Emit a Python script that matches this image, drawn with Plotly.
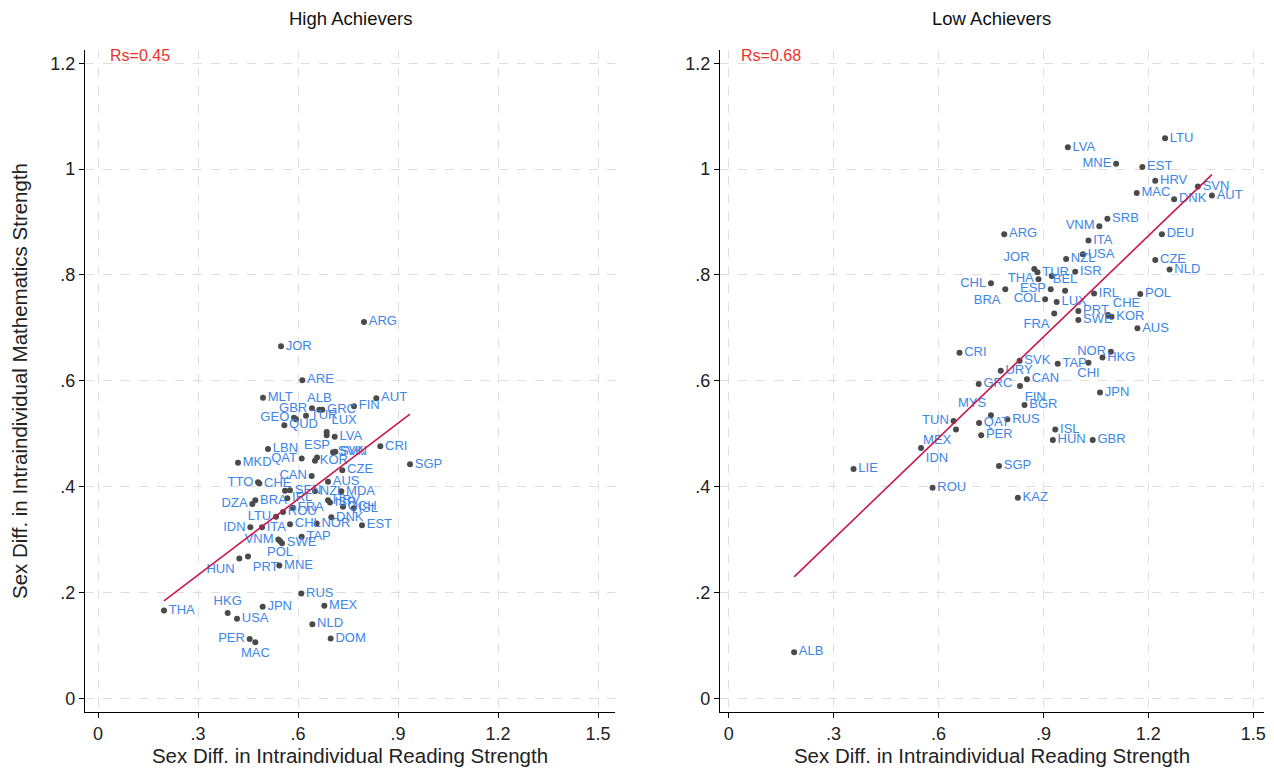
import numpy as np
import plotly.graph_objects as go

# ---------------- High achievers ----------------
ha_country = ["THA", "HKG", "USA", "JPN", "PER", "MAC", "RUS", "MEX", "NLD", "DOM",
              "HUN", "PRT", "MNE", "POL", "VNM", "SWE", "TAP", "IDN", "ITA", "LTU",
              "ROU", "FRA", "CHL", "NOR", "DNK", "EST", "DZA", "BRA", "IRL", "HRV",
              "ISR", "QCH", "ISL", "MDA", "NZL", "SEN", "", "TTO", "CHE", "AUS",
              "CAN", "CZE", "MKD", "QAT", "ESP", "KOR", "LBN", "SVK", "SVN", "CRI",
              "SGP", "LVA", "LUX", "", "QUD", "GEO", "", "TUR", "GBR", "ALB",
              "GRC", "FIN", "MLT", "AUT", "ARE", "JOR", "ARG"]
ha_read = [0.198, 0.389, 0.417, 0.494, 0.455, 0.472, 0.610, 0.679, 0.643, 0.698,
           0.424, 0.450, 0.544, 0.546, 0.541, 0.552, 0.611, 0.457, 0.492, 0.534,
           0.555, 0.585, 0.576, 0.656, 0.700, 0.792, 0.463, 0.472, 0.568, 0.690,
           0.696, 0.735, 0.767, 0.730, 0.651, 0.576, 0.561, 0.480, 0.484, 0.690,
           0.641, 0.733, 0.420, 0.611, 0.657, 0.651, 0.510, 0.705, 0.712, 0.847,
           0.936, 0.710, 0.686, 0.686, 0.559, 0.588, 0.594, 0.624, 0.642, 0.664,
           0.673, 0.768, 0.495, 0.835, 0.613, 0.549, 0.798]
ha_math = [0.166, 0.161, 0.150, 0.173, 0.112, 0.106, 0.198, 0.175, 0.140, 0.113,
           0.264, 0.268, 0.251, 0.297, 0.300, 0.293, 0.305, 0.323, 0.323, 0.343,
           0.352, 0.360, 0.329, 0.330, 0.342, 0.327, 0.367, 0.374, 0.378, 0.374,
           0.370, 0.362, 0.359, 0.391, 0.391, 0.393, 0.392, 0.408, 0.406, 0.409,
           0.420, 0.431, 0.445, 0.453, 0.455, 0.449, 0.471, 0.465, 0.466, 0.476,
           0.442, 0.494, 0.503, 0.497, 0.516, 0.530, 0.527, 0.534, 0.548, 0.545,
           0.545, 0.552, 0.568, 0.567, 0.601, 0.665, 0.711]
ha_labelpos = ["middle right", "top center", "middle right", "middle right", "middle left",
               "bottom center", "middle right", "middle right", "middle right", "middle right",
               "bottom left", "bottom right", "middle right", "bottom center", "middle left",
               "middle right", "middle right", "middle left", "middle right", "middle left",
               "middle right", "middle right", "middle right", "middle right", "middle right",
               "middle right", "middle left", "middle right", "middle right", "middle right",
               "middle right", "middle right", "middle right", "middle right", "middle right",
               "middle right", "middle right", "middle left", "middle right", "middle right",
               "middle left", "middle right", "middle right", "middle left", "top center",
               "middle right", "middle right", "middle right", "middle right", "middle right",
               "middle right", "middle right", "top right", "middle right", "middle right",
               "middle left", "middle right", "middle right", "middle left", "top center",
               "middle right", "middle right", "middle right", "middle right", "middle right",
               "middle right", "middle right"]
ha_fit = {"slope": 0.478, "intercept": 0.0893}
ha_rs = "Rs=0.45"

# ---------------- Low achievers ----------------
la_country = ["ALB", "LIE", "ROU", "KAZ", "SGP", "IDN", "MEX", "TUN", "QAT", "PER",
              "RUS", "MYS", "ISL", "HUN", "GBR", "BGR", "FIN", "GRC", "CAN", "URY",
              "SVK", "TAP", "CHI", "JPN", "CRI", "NOR", "HKG", "AUS", "SWE", "PRT",
              "FRA", "CHE", "KOR", "LUX", "COL", "IRL", "POL", "BEL", "ESP", "BRA",
              "CHL", "THA", "TUR", "", "JOR", "ISR", "NZL", "USA", "CZE", "NLD",
              "ITA", "ARG", "DEU", "VNM", "SRB", "MAC", "DNK", "AUT", "SVN", "HRV",
              "EST", "MNE", "LVA", "LTU"]
la_read = [0.187, 0.357, 0.583, 0.827, 0.773, 0.550, 0.650, 0.643, 0.716, 0.722,
           0.797, 0.750, 0.934, 0.927, 1.041, 0.846, 0.833, 0.715, 0.853, 0.778,
           0.832, 0.941, 1.029, 1.062, 0.660, 1.093, 1.069, 1.169, 1.000, 1.000,
           0.931, 1.085, 1.095, 0.938, 0.905, 1.045, 1.177, 0.962, 0.921, 0.791,
           0.750, 0.886, 0.883, 0.924, 0.874, 0.991, 0.965, 1.013, 1.220, 1.261,
           1.029, 0.788, 1.239, 1.060, 1.083, 1.167, 1.274, 1.382, 1.342, 1.220,
           1.183, 1.108, 0.970, 1.248]
la_math = [0.087, 0.433, 0.398, 0.379, 0.439, 0.473, 0.508, 0.524, 0.520, 0.497,
           0.527, 0.535, 0.508, 0.488, 0.488, 0.554, 0.590, 0.594, 0.603, 0.619,
           0.638, 0.632, 0.634, 0.578, 0.653, 0.655, 0.644, 0.699, 0.715, 0.732,
           0.727, 0.724, 0.721, 0.749, 0.754, 0.765, 0.764, 0.770, 0.773, 0.773,
           0.784, 0.792, 0.805, 0.798, 0.811, 0.806, 0.830, 0.839, 0.828, 0.810,
           0.865, 0.877, 0.877, 0.892, 0.906, 0.955, 0.943, 0.950, 0.967, 0.978,
           1.004, 1.010, 1.041, 1.058]
la_labelpos = ["middle right", "middle right", "middle right", "middle right", "middle right",
               "bottom right", "bottom left", "middle left", "middle right", "middle right",
               "middle right", "top left", "middle right", "middle right", "middle right",
               "middle right", "bottom right", "middle right", "middle right", "middle right",
               "middle right", "middle right", "bottom center", "middle right", "middle right",
               "middle left", "middle right", "middle right", "middle right", "middle right",
               "bottom left", "top right", "middle right", "middle right", "middle left",
               "middle right", "middle right", "top center", "middle left", "bottom left",
               "middle left", "middle left", "middle right", "middle right", "top left",
               "middle right", "middle right", "middle right", "middle right", "middle right",
               "middle right", "middle right", "middle right", "middle left", "middle right",
               "middle right", "middle right", "middle right", "middle right", "middle right",
               "middle right", "middle left", "middle right", "middle right"]
la_fit = {"slope": 0.636, "intercept": 0.1104}
la_rs = "Rs=0.68"

panel_titles = ["High Achievers", "Low Achievers"]
x_title = "Sex Diff. in Intraindividual Reading Strength"
y_title = "Sex Diff. in Intraindividual Mathematics Strength"
x_tickvals = [0, 0.3, 0.6, 0.9, 1.2, 1.5]
x_ticktext = ["0", ".3", ".6", ".9", "1.2", "1.5"]
y_tickvals = [0, 0.2, 0.4, 0.6, 0.8, 1.0, 1.2]
y_ticktext = ["0", ".2", ".4", ".6", ".8", "1", "1.2"]

FONT = "Arial, Liberation Sans, sans-serif"
LABEL_BLUE = "#3d85e8"
DOT = "#4a4a4a"
LINE = "#c8174b"
RS_RED = "#e8322c"
GRID = "#dedede"

# page body adds an 8px offset, so the figure is sized to fit the window
W, H = 1266, 768
ML, MR, MT, MB = 77, 10, 42, 64
pw = W - ML - MR
left_dom = [0, 530 / pw]
right_dom = [(712 - ML) / pw, 1]

fig = go.Figure()

panels = [
    (ha_read, ha_math, ha_country, ha_labelpos, ha_fit, ha_rs, "x", "y"),
    (la_read, la_math, la_country, la_labelpos, la_fit, la_rs, "x2", "y2"),
]

for xs, ys, labs, pos, fit, rs, xa, ya in panels:
    fig.add_trace(go.Scatter(
        x=xs, y=ys, mode="markers+text", text=labs, textposition=pos,
        marker=dict(color=DOT, size=6),
        textfont=dict(family=FONT, size=13, color=LABEL_BLUE),
        xaxis=xa, yaxis=ya, showlegend=False, cliponaxis=False))
    fx = np.array([min(xs), max(xs)])
    fy = fit["intercept"] + fit["slope"] * fx
    fig.add_trace(go.Scatter(
        x=fx, y=fy, mode="lines", line=dict(color=LINE, width=1.6),
        xaxis=xa, yaxis=ya, showlegend=False))
    fig.add_annotation(x=0.03, y=1.214, xref=xa, yref=ya, text=rs, showarrow=False,
                       xanchor="left", yanchor="middle",
                       font=dict(family=FONT, size=16, color=RS_RED))

axis_common = dict(showline=True, linecolor="black", linewidth=1.2, ticks="outside",
                   ticklen=5, tickcolor="black", showgrid=True, gridcolor=GRID,
                   griddash="dash", gridwidth=1, zeroline=False, mirror=False,
                   tickfont=dict(family=FONT, size=18, color="#222"))
title_font = dict(family=FONT, size=20.5, color="#222")

fig.update_layout(
    width=W, height=H, margin=dict(l=ML, r=MR, t=MT, b=MB, autoexpand=False),
    paper_bgcolor="white", plot_bgcolor="white",
    xaxis=dict(domain=left_dom, range=[-0.039, 1.551], tickvals=x_tickvals, ticktext=x_ticktext,
               title=dict(text=x_title, font=title_font, standoff=2),
               anchor="y", automargin=False, **axis_common),
    yaxis=dict(domain=[0, 1], range=[-0.026, 1.225], tickvals=y_tickvals, ticktext=y_ticktext,
               title=dict(text=y_title, font=title_font, standoff=22),
               anchor="x", automargin=False, **axis_common),
    xaxis2=dict(domain=right_dom, range=[-0.025, 1.531], tickvals=x_tickvals, ticktext=x_ticktext,
                title=dict(text=x_title, font=title_font, standoff=2),
                anchor="y2", automargin=False, **axis_common),
    yaxis2=dict(domain=[0, 1], range=[-0.026, 1.225], tickvals=y_tickvals, ticktext=y_ticktext,
                anchor="x2", automargin=False, **axis_common),
)

for i, t in enumerate(panel_titles):
    dom = left_dom if i == 0 else right_dom
    fig.add_annotation(x=(dom[0] + dom[1]) / 2, y=1.0, xref="paper", yref="paper",
                       xanchor="center", yshift=32, text=t, showarrow=False, yanchor="middle",
                       font=dict(family=FONT, size=18.5, color="#111"))

fig.write_html("out.html")
